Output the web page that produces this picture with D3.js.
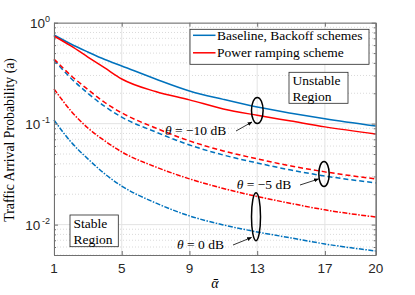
<!DOCTYPE html>
<html>
<head>
<meta charset="utf-8">
<script src="https://cdn.jsdelivr.net/npm/d3@7"></script>
<style>
  body { margin: 0; background: #fff; }
  .tick-label { font-family: 'Liberation Sans', Arial, sans-serif; fill: #262626; }
  .serif { font-family: 'Liberation Serif', 'Times New Roman', serif; fill: #000; }
</style>
</head>
<body>
<div id="root"></div>
<script>
// alpha-bar sample points
const alphaBar = [1, 2, 3, 4, 5, 7, 9, 11, 13, 15, 17, 20];

// theta = -10 dB (solid)
const baseM10 = [0.755, 0.615, 0.513, 0.432, 0.373, 0.277, 0.211, 0.174, 0.146, 0.127, 0.112, 0.0949];
const rampM10 = [0.738, 0.588, 0.457, 0.356, 0.277, 0.208, 0.172, 0.140, 0.121, 0.106, 0.0929, 0.0791];
// theta = -5 dB (dashed)
const baseM5 = [0.427, 0.282, 0.200, 0.148, 0.116, 0.0828, 0.0615, 0.0489, 0.0408, 0.0347, 0.0303, 0.0259];
const rampM5 = [0.437, 0.300, 0.218, 0.162, 0.128, 0.0906, 0.0675, 0.0537, 0.0448, 0.0381, 0.0333, 0.0284];
// theta = 0 dB (dash-dot)
const base0 = [0.1086, 0.0659, 0.0448, 0.0318, 0.0241, 0.0164, 0.0122, 0.00993, 0.00846, 0.00738, 0.00643, 0.00548];
const ramp0 = [0.221, 0.1336, 0.0906, 0.0675, 0.0525, 0.0373, 0.0284, 0.0228, 0.0190, 0.0162, 0.0140, 0.0119];

const xTicks = [1, 5, 9, 13, 17, 20];
const yDecades = [0.01, 0.1, 1];
const yDecadeExp = ['-2', '-1', '0'];
const legendLabels = ['Baseline, Backoff schemes', 'Power ramping scheme'];

const blue = '#0072BD';
const red = '#FF0000';

const svgWidth = 415;
const svgHeight = 295;
const margin = { top: 22.7, right: 39.3, bottom: 40, left: 54 };
const chartWidth = svgWidth - margin.left - margin.right;
const chartHeight = svgHeight - margin.top - margin.bottom;

const xScale = d3.scaleLinear().domain([1, 20]).range([0, chartWidth]);
const yScale = d3.scaleLog().domain([0.005, 1]).range([chartHeight, 0]);

const minorY = [];
[0.001, 0.01, 0.1].forEach(d => {
  for (let k = 2; k <= 9; k++) {
    const v = d * k;
    if (v >= 0.005 && v < 1) minorY.push(v);
  }
});

const svg = d3.select('#root').append('svg')
  .attr('width', svgWidth)
  .attr('height', svgHeight);

const chart = svg.append('g')
  .attr('transform', `translate(${margin.left}, ${margin.top})`);

// grid
chart.append('g').selectAll('line')
  .data(minorY)
  .enter().append('line')
  .attr('x1', 0).attr('x2', chartWidth)
  .attr('y1', d => yScale(d)).attr('y2', d => yScale(d))
  .attr('stroke', '#d0d0d0')
  .attr('stroke-width', 0.8)
  .attr('stroke-dasharray', '1,2');

chart.append('g').selectAll('line')
  .data(yDecades)
  .enter().append('line')
  .attr('x1', 0).attr('x2', chartWidth)
  .attr('y1', d => yScale(d)).attr('y2', d => yScale(d))
  .attr('stroke', '#e3e3e3')
  .attr('stroke-width', 1);

chart.append('g').selectAll('line')
  .data(xTicks)
  .enter().append('line')
  .attr('x1', d => xScale(d)).attr('x2', d => xScale(d))
  .attr('y1', 0).attr('y2', chartHeight)
  .attr('stroke', '#e3e3e3')
  .attr('stroke-width', 1);

// curves
const line = d3.line()
  .x((d, i) => xScale(alphaBar[i]))
  .y(d => yScale(d))
  .curve(d3.curveMonotoneX);

const series = [
  { values: baseM10, color: blue, dash: null },
  { values: rampM10, color: red, dash: null },
  { values: baseM5, color: blue, dash: '5,3' },
  { values: rampM5, color: red, dash: '5,3' },
  { values: base0, color: blue, dash: '5,1.5,1.5,1.5' },
  { values: ramp0, color: red, dash: '5,1.5,1.5,1.5' },
];

chart.append('g').selectAll('path')
  .data(series)
  .enter().append('path')
  .attr('d', d => line(d.values))
  .attr('fill', 'none')
  .attr('stroke', d => d.color)
  .attr('stroke-width', 1.5)
  .attr('stroke-dasharray', d => d.dash);

// axes box
const axisColor = '#707070';
const styleAxis = g => {
  g.select('.domain').attr('stroke', axisColor);
  g.selectAll('.tick line').attr('stroke', axisColor);
};

chart.append('g')
  .attr('transform', `translate(0, ${chartHeight})`)
  .call(d3.axisBottom(xScale).tickValues(xTicks).tickSize(-4).tickSizeOuter(0).tickFormat(''))
  .call(styleAxis);
chart.append('g')
  .call(d3.axisTop(xScale).tickValues(xTicks).tickSize(-4).tickSizeOuter(0).tickFormat(''))
  .call(styleAxis);
chart.append('g')
  .call(d3.axisLeft(yScale).tickValues(yDecades).tickSize(-4).tickSizeOuter(0).tickFormat(''))
  .call(styleAxis);
chart.append('g')
  .call(d3.axisLeft(yScale).tickValues(minorY).tickSize(-2).tickSizeOuter(0).tickFormat(''))
  .call(styleAxis);
chart.append('g')
  .attr('transform', `translate(${chartWidth}, 0)`)
  .call(d3.axisRight(yScale).tickValues(yDecades).tickSize(-4).tickSizeOuter(0).tickFormat(''))
  .call(styleAxis);
chart.append('g')
  .attr('transform', `translate(${chartWidth}, 0)`)
  .call(d3.axisRight(yScale).tickValues(minorY).tickSize(-2).tickSizeOuter(0).tickFormat(''))
  .call(styleAxis);

// tick labels
chart.append('g').selectAll('text')
  .data(xTicks)
  .enter().append('text')
  .attr('class', 'tick-label')
  .attr('x', d => xScale(d))
  .attr('y', chartHeight + 18.5)
  .attr('text-anchor', 'middle')
  .attr('font-size', 13.5)
  .text(d => d);

const yLabels = chart.append('g').selectAll('text')
  .data(yDecades)
  .enter().append('text')
  .attr('class', 'tick-label')
  .attr('x', -4)
  .attr('y', d => yScale(d) + 5.5)
  .attr('text-anchor', 'end')
  .attr('font-size', 13.5);
yLabels.append('tspan').text('10');
yLabels.append('tspan')
  .attr('font-size', 9)
  .attr('dy', -6.5)
  .text((d, i) => yDecadeExp[i].replace('-', '\u2009-'));

// axis titles
svg.append('text')
  .attr('class', 'serif')
  .attr('transform', `translate(14, ${margin.top + chartHeight / 2 + 1}) rotate(-90)`)
  .attr('text-anchor', 'middle')
  .attr('font-size', 13.8)
  .text('Traffic Arrival Probability (a)');

svg.append('text')
  .attr('class', 'serif')
  .attr('x', margin.left + chartWidth / 2)
  .attr('y', 288)
  .attr('text-anchor', 'middle')
  .attr('font-size', 14)
  .attr('font-style', 'italic')
  .text('\u03B1\u0304');

// legend
const legend = chart.append('g')
  .attr('transform', `translate(${190 - margin.left}, ${29.3 - margin.top})`);
legend.append('rect')
  .attr('width', 179).attr('height', 35)
  .attr('fill', '#fff')
  .attr('stroke', '#262626')
  .attr('stroke-width', 0.8);
const legendItems = legend.selectAll('g.item')
  .data(legendLabels)
  .enter().append('g')
  .attr('class', 'item')
  .attr('transform', (d, i) => `translate(0, ${6 + i * 17.5})`);
legendItems.append('line')
  .attr('x1', 3).attr('x2', 25.5)
  .attr('stroke', (d, i) => [blue, red][i])
  .attr('stroke-width', 1.5);
legendItems.append('text')
  .attr('class', 'serif')
  .attr('x', 27)
  .attr('y', 4.5)
  .attr('font-size', 13.5)
  .text(d => d);

// region boxes
function regionBox(x, y, w, h, lines) {
  const g = svg.append('g').attr('transform', `translate(${x}, ${y})`);
  g.append('rect')
    .attr('width', w).attr('height', h)
    .attr('fill', '#fff')
    .attr('stroke', '#262626')
    .attr('stroke-width', 0.8);
  g.selectAll('text')
    .data(lines)
    .enter().append('text')
    .attr('class', 'serif')
    .attr('x', 3.5)
    .attr('y', (d, i) => 13 + i * 15.5)
    .attr('font-size', 13.5)
    .text(d => d);
}
regionBox(289, 72.3, 59, 31, ['Unstable', 'Region']);
regionBox(70, 215, 48.3, 31.7, ['Stable', 'Region']);

// annotations
svg.append('defs').append('marker')
  .attr('id', 'arrow')
  .attr('viewBox', '0 0 10 10')
  .attr('refX', 9).attr('refY', 5)
  .attr('markerWidth', 6).attr('markerHeight', 6)
  .attr('orient', 'auto')
  .append('path')
  .attr('d', 'M0,1 L10,5 L0,9 Z')
  .attr('fill', '#000');

const notes = [
  { label: '\u221210 dB', tx: 165, ty: 135, cx: 257.3, cy: 110.5, rx: 5.8, ry: 13, ax1: 236, ay1: 131, ax2: 252, ay2: 122 },
  { label: '\u22125 dB', tx: 236.7, ty: 189, cx: 324, cy: 174, rx: 5.2, ry: 12.5, ax1: 300, ay1: 185, ax2: 318.5, ay2: 179 },
  { label: '0 dB', tx: 177, ty: 249, cx: 256, cy: 216.7, rx: 4.5, ry: 24, ax1: 233, ay1: 245, ax2: 251.5, ay2: 237.5 },
];

notes.forEach(n => {
  svg.append('ellipse')
    .attr('cx', n.cx).attr('cy', n.cy)
    .attr('rx', n.rx).attr('ry', n.ry)
    .attr('fill', 'none')
    .attr('stroke', '#000')
    .attr('stroke-width', 1.5);
  svg.append('line')
    .attr('x1', n.ax1).attr('y1', n.ay1)
    .attr('x2', n.ax2).attr('y2', n.ay2)
    .attr('stroke', '#000')
    .attr('stroke-width', 0.8)
    .attr('marker-end', 'url(#arrow)');
  const t = svg.append('text')
    .attr('class', 'serif')
    .attr('x', n.tx).attr('y', n.ty)
    .attr('font-size', 13.5);
  t.append('tspan').attr('font-style', 'italic').text('\u03B8');
  t.append('tspan').text(` = ${n.label}`);
});
</script>
</body>
</html>
